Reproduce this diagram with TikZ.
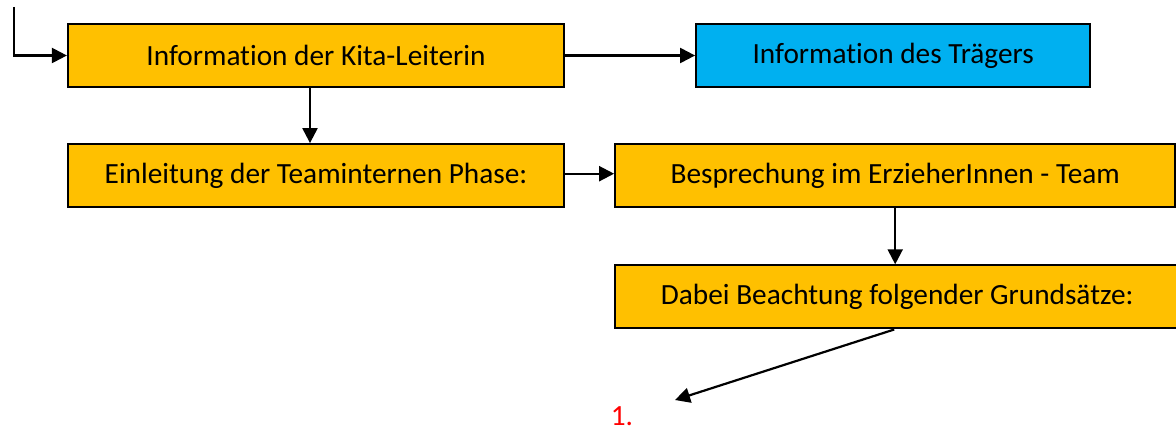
\documentclass[tikz,border=0pt]{standalone}
\usepackage{fontspec}
\setmainfont{Carlito}[Ligatures={NoCommon}]
\usepackage{tikz}
\usetikzlibrary{positioning,arrows.meta}
\definecolor{kitagold}{RGB}{255,192,0}
\definecolor{traegerblue}{RGB}{0,176,240}
\definecolor{numred}{RGB}{255,0,0}
\tikzset{
  stepbox/.style ={draw=black, line width=2.2pt, fill=kitagold, align=center,
                   font=\fontsize{29.3}{34}\selectfont, inner sep=0pt, minimum height=63pt},
  bluebox/.style ={stepbox, fill=traegerblue},
  ar/.style      ={-{Triangle[length=15pt,width=15pt]}, draw=black, line width=2.2pt},
}
\begin{document}
\begin{tikzpicture}[x=1pt,y=-1pt]
\useasboundingbox (0,0) rectangle (1176,430);
\node[stepbox,minimum width=496pt] (kita) at (316,55.5) {Information der Kita-Leiterin};
\node[bluebox,right=130pt of kita,minimum width=394pt] (traeger) {Information des Trägers};
\node[stepbox,below=55pt of kita,minimum width=496pt] (einl) {Einleitung der Teaminternen Phase:};
\node[stepbox,right=49pt of einl,minimum width=560pt] (bespr) {Besprechung im ErzieherInnen - Team};
\node[stepbox,below right=56pt and 0pt of bespr.south west,minimum width=564pt] (dabei) {Dabei Beachtung folgender Grundsätze:};
\node[font=\fontsize{29.3}{34}\selectfont, text=numred, inner sep=0pt] (eins) at (622,416) {1.};
\coordinate (start) at (14,7);
\coordinate (einsTip) at (675,400);
\draw[ar] (start) |- (kita.west);
\draw[ar] (kita) -- (traeger);
\draw[ar] ([xshift=-6pt]kita.south) -- ([xshift=-6pt]einl.north);
\draw[ar] ([yshift=2pt]einl.east) -- ([yshift=2pt]bespr.west);
\draw[ar] (bespr.south) -- (bespr.south |- dabei.north);
\draw[ar] ([xshift=-3pt]dabei.south) -- (einsTip);
\end{tikzpicture}
\end{document}
